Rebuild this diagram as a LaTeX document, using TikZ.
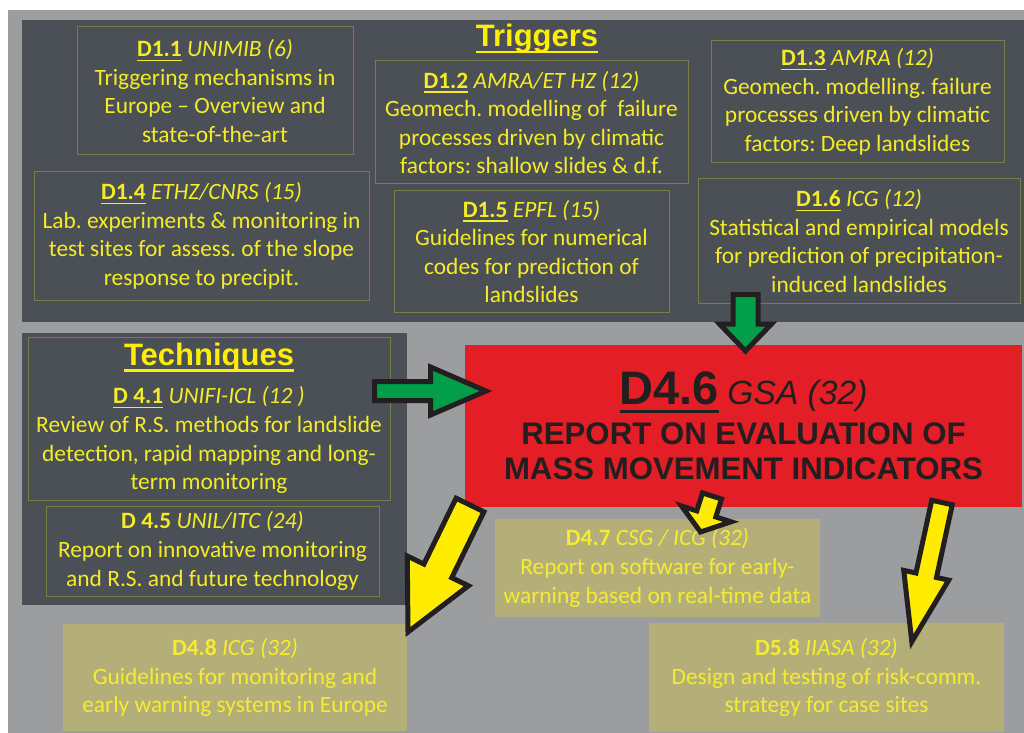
\documentclass[tikz,border=0pt]{standalone}
\usepackage{fontspec}
\setmainfont{Carlito}
\newfontfamily\arialfont{Liberation Sans}
\usetikzlibrary{calc}
\frenchspacing

\definecolor{bggrey}{RGB}{155,157,158}
\definecolor{panel}{RGB}{74,80,85}
\definecolor{boxline}{RGB}{125,124,70}
\definecolor{txtyel}{RGB}{245,235,40}
\definecolor{headyel}{RGB}{255,238,0}
\definecolor{paleyel}{RGB}{180,175,120}
\definecolor{paletxt}{RGB}{245,236,50}
\definecolor{repred}{RGB}{228,30,38}
\definecolor{inkdark}{RGB}{35,31,32}
\definecolor{arrgreen}{RGB}{0,158,74}
\definecolor{arryel}{RGB}{255,236,0}

% underline at a fixed depth below the baseline
\newcommand{\hul}[3]{\setbox0=\hbox{#3}\rlap{\vrule width\wd0 height\dimexpr-#1\relax depth\dimexpr#1+#2\relax}\box0\relax}
\newcommand{\dhead}[2]{\hul{1.5pt}{0.75pt}{\textbf{#1}} \textit{#2}}
\newcommand{\phead}[2]{\textbf{#1} \textit{#2}}

% block arrow: style, from, to, half shaft, half head, head length
\newcommand{\blockarrow}[6]{%
  \coordinate (neck) at ($(#3)!#6!(#2)$);
  \draw[#1] ($(#2)!#4!90:(#3)$) -- ($(neck)!#4!-90:(#2)$) -- ($(neck)!#5!-90:(#2)$) -- (#3)
    -- ($(neck)!#5!90:(#2)$) -- ($(neck)!#4!90:(#2)$) -- ($(#2)!#4!-90:(#3)$) -- cycle;}

\begin{document}
\begin{tikzpicture}[x=0.5pt,y=-0.5pt,
  dbox/.style={draw=boxline, line width=0.5pt, text=txtyel, align=center,
    inner sep=0pt, outer sep=0pt, font=\fontsize{11.7}{14.3}\selectfont},
  pbox/.style={fill=paleyel, text=paletxt, align=center,
    inner sep=0pt, outer sep=0pt, font=\fontsize{11.7}{14.3}\selectfont},
  report/.style={fill=repred, text=inkdark, align=center, inner sep=0pt,
    font=\arialfont\bfseries\fontsize{15.6}{17.5}\selectfont},
  title/.style={text=headyel, inner sep=0pt, font=\arialfont\bfseries\fontsize{15.5}{18}\selectfont},
  garrow/.style={fill=arrgreen, draw=inkdark, line width=2.5pt, line join=miter},
  yarrow/.style={fill=arryel, draw=inkdark, line width=2.5pt, line join=miter}]

\useasboundingbox (0,0) rectangle (1024,733);
\fill[white] (0,0) rectangle (1024,733);
\fill[bggrey] (8,10) rectangle (1024,733);

% Panels
  \fill[panel] (22,20) rectangle (1024,322);
  \fill[panel] (22,333) rectangle (407,605);

% Nodes
  \node[title, anchor=base]   (trig) at (537,47) {\hul{1.8pt}{1.4pt}{Triggers}};

  \node[dbox, minimum width=138pt, minimum height=64pt]     (d11) at (215,91)
    {\dhead{D1.1}{UNIMIB (6)}\\Triggering mechanisms in\\Europe – Overview and\\state-of-the-art};
  \node[dbox, minimum width=156.5pt, minimum height=61.5pt] (d12) at (531.5,122.5)
    {\dhead{D1.2}{AMRA/ET HZ (12)}\\Geomech. modelling of \ failure\\processes driven by climatic\\factors: shallow slides \& d.f.};
  \node[dbox, minimum width=146.5pt, minimum height=61pt]   (d13) at (857.5,102)
    {\dhead{D1.3}{AMRA (12)}\\Geomech. modelling. failure\\processes driven by climatic\\factors: Deep landslides};
  \node[dbox, minimum width=167.5pt, minimum height=64pt]   (d14) at (201.5,236)
    {\dhead{D1.4}{ETHZ/CNRS (15)}\\Lab. experiments \& monitoring in\\test sites for assess. of the slope\\response to precipit.};
  \node[dbox, minimum width=137.5pt, minimum height=60.5pt] (d15) at (531.5,251.5)
    {\dhead{D1.5}{EPFL (15)}\\Guidelines for numerical\\codes for prediction of\\landslides};
  \node[dbox, minimum width=161pt, minimum height=62pt]     (d16) at (859,241)
    {\dhead{D1.6}{ICG (12)}\\Statistical and empirical models\\for prediction of precipitation-\\induced landslides};

  \node[dbox, minimum width=181pt, minimum height=81.5pt]   (d41) at (209,418.5)
    {{\arialfont\bfseries\fontsize{15.5}{18}\selectfont\color{headyel}\hul{1.8pt}{1.4pt}{Techniques}}\\[4.7pt]
     \dhead{D 4.1}{UNIFI-ICL (12 )}\\Review of R.S. methods for landslide\\detection, rapid mapping and long-\\term monitoring};
  \node[dbox, minimum width=166.5pt, minimum height=45pt]   (d45) at (212.5,551)
    {\phead{D 4.5}{UNIL/ITC (24)}\\Report on innovative monitoring\\and R.S. and future technology};

  \node[report, minimum width=278.5pt, minimum height=81pt] (d46) at (743.5,426)
    {{\fontsize{23.5}{28}\selectfont\hul{2.5pt}{1.4pt}{D4.6}} {\mdseries\itshape\fontsize{16.8}{20}\selectfont GSA (32)}\\[2.5pt]
     REPORT ON EVALUATION OF\\MASS MOVEMENT INDICATORS};

  \node[pbox, minimum width=162.5pt, minimum height=49pt]   (d47) at (657.5,568)
    {\phead{D4.7}{CSG / ICG (32)}\\Report on software for early-\\warning based on real-time data};
  \node[pbox, minimum width=172pt, minimum height=53.5pt]   (d48) at (235,677.5)
    {\phead{D4.8}{ICG (32)}\\Guidelines for monitoring and\\early warning systems in Europe};
  \node[pbox, minimum width=177.5pt, minimum height=54.5pt] (d58) at (826.5,677.5)
    {\phead{D5.8}{IIASA (32)}\\Design and testing of risk-comm.\\strategy for case sites};

% Arrows
  \coordinate (g1s) at (374.5,391);  \coordinate (g1e) at (486,391);
  \coordinate (g2s) at (745.5,294.5); \coordinate (g2e) at (745.5,351);
  \coordinate (y1s) at (470,505);    \coordinate (y1e) at (408,632);
  \coordinate (y2s) at (712,496);    \coordinate (y2e) at (700.5,532);
  \coordinate (y3s) at (942,502.5);  \coordinate (y3e) at (911.8,641.7);

  \blockarrow{garrow}{g1s}{g1e}{4.75pt}{12pt}{27.75pt}
  \blockarrow{garrow}{g2s}{g2e}{6.25pt}{13pt}{13.5pt}
  \blockarrow{yarrow}{y1s}{y1e}{7.75pt}{17pt}{34pt}
  \blockarrow{yarrow}{y2s}{y2e}{5pt}{13pt}{9.5pt}
  \blockarrow{yarrow}{y3s}{y3e}{5.25pt}{11.5pt}{34pt}

\end{tikzpicture}
\end{document}
